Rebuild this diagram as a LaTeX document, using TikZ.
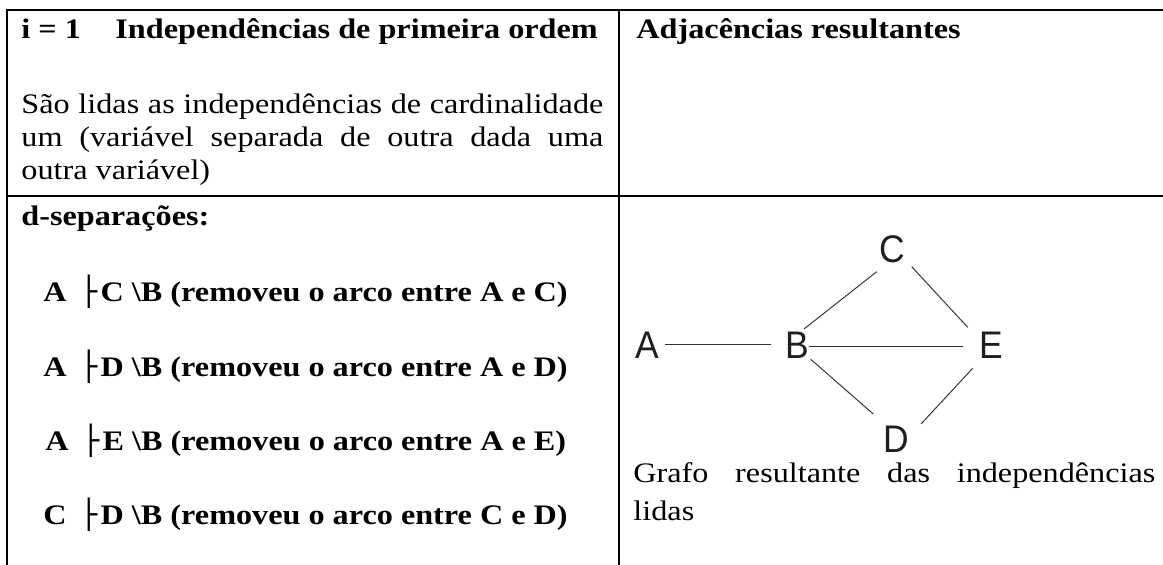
\documentclass[tikz,border=0pt]{standalone}
\usepackage{fontspec}
\setmainfont{Liberation Serif}[FakeStretch=1.14]
\newfontfamily\graphfont{Liberation Sans}[FakeStretch=0.92]
\newfontfamily\boxfont{DejaVu Sans}
\newcommand\sepbar{\hspace{0.2em}{\boxfont\symbol{"251C}}\kern1.5pt}
\usetikzlibrary{calc}
\begin{document}
\begin{tikzpicture}[x=0.46pt,y=-0.46pt,
  rule/.style={line width=0.95pt, line cap=rect},
  txt/.style={anchor=base west, inner sep=0pt, font=\fontsize{13}{15}\selectfont},
  btxt/.style={anchor=base west, inner sep=0pt, font=\fontsize{13}{15}\selectfont\bfseries},
  vtx/.style={inner sep=0pt, font=\fontsize{17.7}{20}\selectfont\graphfont, text=black!88},
  link/.style={line width=0.45pt, draw=black!80}]
\useasboundingbox (0,0) rectangle (1163,565);
\fill[white] (0,0) rectangle (1163,565);
% table rules
\draw[rule] (7,565) -- (7,10) -- (1163,10);
\draw[rule] (7,196) -- (1163,196);
\draw[rule] (619,10) -- (619,565);
% headers
\node[btxt] (h1) at (21,39) {i = 1};
\node[btxt] (h2) at (115,39) {Independências de primeira ordem};
\node[btxt] (h3) at (636,39) {Adjacências resultantes};
% left paragraph
\node[txt] (p1) at (21,114) {\makebox[267.7pt][s]{São lidas as independências de cardinalidade}};
\node[txt] (p2) at (21,147) {\makebox[267.7pt][s]{um (variável separada de outra dada uma}};
\node[txt] (p3) at (21,180) {outra variável)};
% d-separations
\node[btxt] (ds) at (21,226) {d-separações:};
\node[btxt] (s1) at (43,302) {A \sepbar C \textbackslash B (removeu o arco entre A e C)};
\node[btxt] (s2) at (43,377) {A \sepbar D \textbackslash B (removeu o arco entre A e D)};
\node[btxt] (s3) at (45,451) {A \sepbar E \textbackslash B (removeu o arco entre A e E)};
\node[btxt] (s4) at (43,525) {C \sepbar D \textbackslash B (removeu o arco entre C e D)};
% caption
\node[txt] (g1) at (633,483) {\makebox[240.1pt][s]{Grafo resultante das independências}};
\node[txt] (g2) at (633,521) {lidas};
% graph
\node[vtx] (A) at (647,345.5) {A};
\node[vtx] (B) at (797,345.5) {B};
\node[vtx] (C) at (892,249) {C};
\node[vtx] (E) at (991,345.5) {E};
\node[vtx] (D) at (896,439) {D};
\draw[link] ($(A)+(18,-1.2)$) -- ($(B)+(-26,-1.2)$);
\draw[link] ($(B)+(12,1.2)$) -- ($(E)+(-28,1.2)$);
\draw[link] ($(B)+(7,-16.5)$) -- ($(C)+(-15.3,22.7)$);
\draw[link] ($(C)+(19.7,17.7)$) -- ($(E)+(-23.3,-18.2)$);
\draw[link] ($(B)+(13.7,13.8)$) -- ($(D)+(-22.7,-25)$);
\draw[link] ($(E)+(-18.3,22.8)$) -- ($(D)+(25,-15)$);
\end{tikzpicture}
\end{document}
